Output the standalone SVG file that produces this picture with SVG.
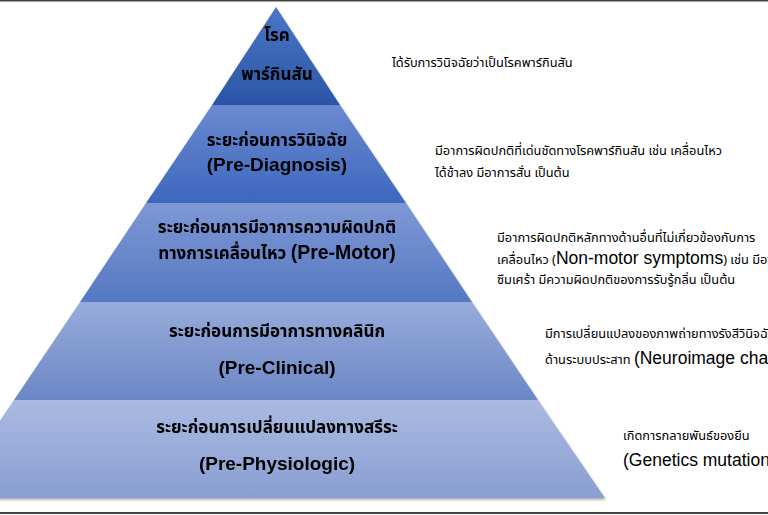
<svg xmlns="http://www.w3.org/2000/svg" width="768" height="515" viewBox="0 0 768 515">
<defs>
<linearGradient id="g1" x1="0" y1="0" x2="0" y2="1"><stop offset="0" stop-color="#4a76c6"/><stop offset="1" stop-color="#2b55a6"/></linearGradient>
<linearGradient id="g2" x1="0" y1="0" x2="0" y2="1"><stop offset="0" stop-color="#6b8ad0"/><stop offset="1" stop-color="#3d67bd"/></linearGradient>
<linearGradient id="g3" x1="0" y1="0" x2="0" y2="1"><stop offset="0" stop-color="#7e98d4"/><stop offset="1" stop-color="#5678c3"/></linearGradient>
<linearGradient id="g4" x1="0" y1="0" x2="0" y2="1"><stop offset="0" stop-color="#98acdb"/><stop offset="1" stop-color="#6c87c6"/></linearGradient>
<linearGradient id="g5" x1="0" y1="0" x2="0" y2="1"><stop offset="0" stop-color="#aabae2"/><stop offset="1" stop-color="#899ed1"/></linearGradient>
<filter id="sh" x="-10%" y="-10%" width="120%" height="120%"><feDropShadow dx="1" dy="2" stdDeviation="1.2" flood-color="#000" flood-opacity="0.3"/></filter>
</defs>
<style>
.h{font-family:"Noto Sans Thai","Noto Sans","Loma","Garuda",sans-serif;font-weight:bold;font-size:17px;fill:#000;text-anchor:middle}
.e{font-family:"Liberation Sans",Arial,sans-serif;font-weight:bold;font-size:19px;fill:#000;text-anchor:middle}
.d{font-family:"Noto Sans Thai","Noto Sans","Loma","Garuda",sans-serif;font-size:12.8px;fill:#000}
.de{font-family:"Liberation Sans",Arial,sans-serif;font-size:17.5px}
</style>
<rect width="768" height="515" fill="#fff"/>
<line x1="0" y1="0.8" x2="768" y2="0.8" stroke="#444" stroke-width="1.6"/>
<line x1="0" y1="513" x2="768" y2="513" stroke="#444" stroke-width="2"/>
<g filter="url(#sh)">
<g id="layer1"><polygon points="276,7 340,105 212,105" fill="url(#g1)"/>
<text class="h" x="277" y="41">โรค</text>
<text class="h" x="277" y="80">พาร์กินสัน</text></g>
<g id="layer2"><polygon points="212,105 340,105 406,203 146,203" fill="url(#g2)"/>
<text class="h" x="277" y="146">ระยะก่อนการวินิจฉัย</text>
<text class="e" x="277" y="171">(Pre-Diagnosis)</text></g>
<g id="layer3"><polygon points="146,203 406,203 472,302 80,302" fill="url(#g3)"/>
<text class="h" x="277" y="233">ระยะก่อนการมีอาการความผิดปกติ</text>
<text class="h" x="277" y="259">ทางการเคลื่อนไหว <tspan style="font-family:'Liberation Sans',Arial,sans-serif;font-size:19.5px">(Pre-Motor)</tspan></text></g>
<g id="layer4"><polygon points="80,302 472,302 538,400 14,400" fill="url(#g4)"/>
<text class="h" x="277" y="337">ระยะก่อนการมีอาการทางคลินิก</text>
<text class="e" x="277" y="374">(Pre-Clinical)</text></g>
<g id="layer5"><polygon points="14,400 538,400 605,498 -53,498" fill="url(#g5)"/>
<text class="h" x="277" y="433">ระยะก่อนการเปลี่ยนแปลงทางสรีระ</text>
<text class="e" x="277" y="470">(Pre-Physiologic)</text></g>
</g>
<g id="desc">
<text class="d" x="392" y="67">ได้รับการวินิจฉัยว่าเป็นโรคพาร์กินสัน</text>
<text class="d" x="435" y="155">มีอาการผิดปกติที่เด่นชัดทางโรคพาร์กินสัน เช่น เคลื่อนไหว</text>
<text class="d" x="435" y="177">ได้ช้าลง มีอาการสั่น เป็นต้น</text>
<text class="d" x="497" y="242">มีอาการผิดปกติหลักทางด้านอื่นที่ไม่เกี่ยวข้องกับการ</text>
<text class="d" x="497" y="264">เคลื่อนไหว (<tspan class="de">Non-motor symptoms</tspan>) เช่น มีอาการ</text>
<text class="d" x="497" y="284">ซึมเศร้า มีความผิดปกติของการรับรู้กลิ่น เป็นต้น</text>
<text class="d" x="545" y="338">มีการเปลี่ยนแปลงของภาพถ่ายทางรังสีวินิจฉัย</text>
<text class="d" x="545" y="364">ด้านระบบประสาท <tspan class="de">(Neuroimage changes)</tspan></text>
<text class="d" x="623" y="440">เกิดการกลายพันธ์ของยีน</text>
<text class="d" x="623" y="466"><tspan class="de">(Genetics mutation)</tspan></text>
</g>
</svg>
